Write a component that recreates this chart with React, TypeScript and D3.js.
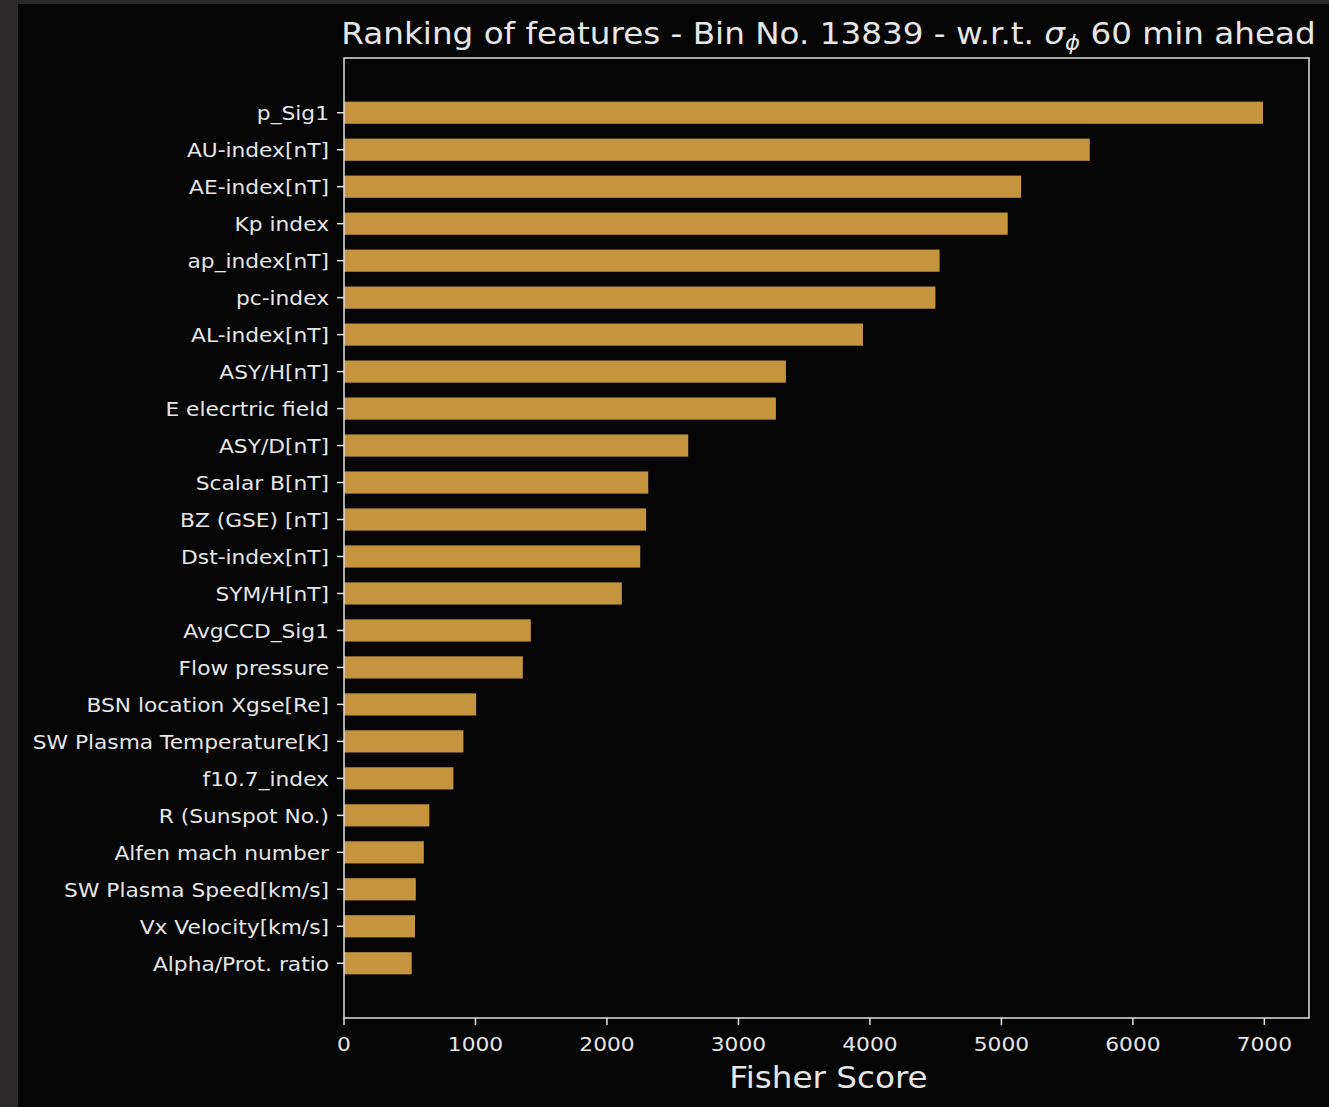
import React from "react";
import * as d3 from "d3";

const features: string[] = [
  "p_Sig1",
  "AU-index[nT]",
  "AE-index[nT]",
  "Kp index",
  "ap_index[nT]",
  "pc-index",
  "AL-index[nT]",
  "ASY/H[nT]",
  "E elecrtric field",
  "ASY/D[nT]",
  "Scalar B[nT]",
  "BZ (GSE) [nT]",
  "Dst-index[nT]",
  "SYM/H[nT]",
  "AvgCCD_Sig1",
  "Flow pressure",
  "BSN location Xgse[Re]",
  "SW Plasma Temperature[K]",
  "f10.7_index",
  "R (Sunspot No.)",
  "Alfen mach number",
  "SW Plasma Speed[km/s]",
  "Vx Velocity[km/s]",
  "Alpha/Prot. ratio",
];

const scores: number[] = [
  6990, 5672, 5150, 5048, 4530, 4498, 3947, 3361, 3285, 2618, 2314, 2298, 2253,
  2113, 1421, 1360, 1005, 908, 832, 649, 607, 546, 540, 515,
];

const xTicks: number[] = [0, 1000, 2000, 3000, 4000, 5000, 6000, 7000];

const W = 1329;
const H = 1107;
const left = 344;
const right = 1309;
const top = 58;
const bottom = 1018;
const barH = 0.6;
const textColor = "#e6e6e6";
const font = "'DejaVu Sans', sans-serif";
const sx = 1.088;

export default function App() {
  const maxV = d3.max(scores) as number;
  const x = d3.scaleLinear().domain([0, maxV * 1.05]).range([left, right]);
  const n = features.length;
  const lo = -barH / 2;
  const hi = n - 1 + barH / 2;
  const m = 0.05 * (hi - lo);
  const y = d3.scaleLinear().domain([lo - m, hi + m]).range([top, bottom]);
  const bh = y(barH) - y(0);
  const cx = (left + right) / 2 + 2;

  return (
    <svg
      width={W}
      height={H}
      style={{ position: "absolute", left: 0, top: 0, display: "block" }}
    >
      <rect x={0} y={0} width={W} height={H} fill="#2b2929" />
      <rect x={18} y={4} width={W - 18} height={H - 4} fill="#050505" />

      {features.map((f, i) => (
        <rect
          key={f}
          x={x(0)}
          y={y(i) - bh / 2}
          width={x(scores[i]) - x(0)}
          height={bh}
          fill="#c6943e"
        />
      ))}

      <rect
        x={left}
        y={top}
        width={right - left}
        height={bottom - top}
        fill="none"
        stroke="#e0e0e0"
        strokeWidth={1.5}
      />

      {features.map((f, i) => (
        <g key={"t" + f}>
          <line
            x1={left - 7}
            x2={left}
            y1={y(i)}
            y2={y(i)}
            stroke="#e0e0e0"
            strokeWidth={1.5}
          />
          <text
            transform={`translate(${left - 15},${y(i) + 1}) scale(${sx},1)`}
            textAnchor="end"
            dominantBaseline="central"
            fill={textColor}
            fontFamily={font}
            fontSize={20}
          >
            {f}
          </text>
        </g>
      ))}

      {xTicks.map((t) => (
        <g key={"x" + t}>
          <line
            x1={x(t)}
            x2={x(t)}
            y1={bottom}
            y2={bottom + 7}
            stroke="#e0e0e0"
            strokeWidth={1.5}
          />
          <text
            transform={`translate(${x(t)},${bottom + 33}) scale(${sx},1)`}
            textAnchor="middle"
            fill={textColor}
            fontFamily={font}
            fontSize={20}
          >
            {t}
          </text>
        </g>
      ))}

      <text
        transform={`translate(${cx},1088) scale(${sx},1)`}
        textAnchor="middle"
        fill={textColor}
        fontFamily={font}
        fontSize={30}
      >
        Fisher Score
      </text>

      <text
        transform={`translate(${cx},44) scale(${sx},1)`}
        textAnchor="middle"
        fill={textColor}
        fontFamily={font}
        fontSize={30}
      >
        Ranking of features - Bin No. 13839 - w.r.t.{" "}
        <tspan fontStyle="italic">σ</tspan>
        <tspan fontStyle="italic" fontSize={21} dy={6}>
          ϕ
        </tspan>
        <tspan dy={-6}> 60 min ahead</tspan>
      </text>
    </svg>
  );
}
